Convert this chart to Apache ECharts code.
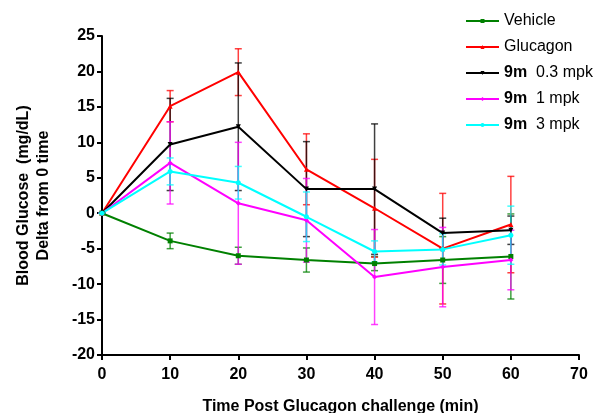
<!DOCTYPE html>
<html><head><meta charset="utf-8">
<script src="https://cdn.jsdelivr.net/npm/echarts@6/dist/echarts.min.js"></script>
<style>html,body{margin:0;padding:0;background:#fff}#c{width:608px;height:413px}</style>
</head><body><div id="c"></div>
<script>
const times = [0, 10, 20, 30, 40, 50, 60];
const seriesNames = ['Vehicle', 'Glucagon', '9m 0.3 mpk', '9m 1 mpk', '9m 3 mpk'];
const vehicle = [0, -3.9, -6.0, -6.6, -7.1, -6.6, -6.1];
const vehicleErr = [0, 1.1, 1.2, 1.7, 1.0, 3.3, 6.0];
const glucagon = [0, 15.1, 19.9, 6.2, 0.7, -5.0, -1.6];
const glucagonErr = [0, 2.2, 3.3, 5.0, 6.9, 7.8, 6.8];
const m03 = [0, 9.7, 12.2, 3.4, 3.4, -2.8, -2.4];
const m03Err = [0, 6.5, 9.0, 6.7, 9.2, 2.1, 2.0];
const m1 = [0, 7.1, 1.4, -1.0, -9.0, -7.6, -6.6];
const m1Err = [0, 5.8, 8.6, 5.9, 6.7, 5.6, 4.2];
const m3 = [0, 5.9, 4.3, -0.5, -5.4, -5.1, -3.1];
const m3Err = [0, 1.9, 2.3, 3.5, 1.5, 2.2, 4.1];

const means = [vehicle, glucagon, m03, m1, m3];
const errs = [vehicleErr, glucagonErr, m03Err, m1Err, m3Err];
const colors = ['#008000', '#ff0000', '#000000', '#ff00ff', '#00ffff'];
const symbols = ['rect', 'triangle', 'triangle', 'diamond', 'circle'];
const symbolRot = [0, 0, 180, 0, 0];

const series = [];
means.forEach((m, i) => {
  series.push({
    type: 'line', name: seriesNames[i], z: 3,
    data: times.map((t, k) => [t, m[k]]),
    symbol: symbols[i], symbolRotate: symbolRot[i], symbolSize: 5,
    showAllSymbol: true,
    lineStyle: { color: colors[i], width: 2 },
    itemStyle: { color: colors[i] }
  });
});
means.forEach((m, i) => {
  series.push({
    type: 'custom', name: seriesNames[i], z: 1,
    data: times.map((t, k) => [t, m[k] - errs[i][k], m[k] + errs[i][k]]),
    renderItem: (params, api) => {
      const lo = api.coord([api.value(0), api.value(1)]);
      const hi = api.coord([api.value(0), api.value(2)]);
      const w = 3.5;
      const st = { stroke: colors[i], lineWidth: 1.5, opacity: 0.75 };
      return { type: 'group', children: [
        { type: 'line', shape: { x1: lo[0], y1: lo[1], x2: hi[0], y2: hi[1] }, style: st },
        { type: 'line', shape: { x1: lo[0] - w, y1: lo[1], x2: lo[0] + w, y2: lo[1] }, style: st },
        { type: 'line', shape: { x1: hi[0] - w, y1: hi[1], x2: hi[0] + w, y2: hi[1] }, style: st }
      ]};
    },
    silent: true
  });
});

const chart = echarts.init(document.getElementById('c'), null, { renderer: 'canvas' });
chart.setOption({
  animation: false,
  backgroundColor: '#fff',
  grid: { left: 102, right: 29, top: 36, bottom: 58, containLabel: false, outerBoundsMode: 'none' },
  legend: {
    orient: 'vertical', left: 465, top: 13, padding: 0, itemWidth: 33, itemHeight: 5, itemGap: 10,
    data: seriesNames,
    textStyle: { fontFamily: 'Liberation Sans', fontSize: 16, color: '#000',
      rich: { b: { fontFamily: 'Liberation Sans', fontSize: 16, fontWeight: 'bold', color: '#000' },
              n: { fontFamily: 'Liberation Sans', fontSize: 16, color: '#000' } } },
    formatter: (name) => name.startsWith('9m') ? '{b|9m}{n|  ' + name.slice(3) + '}' : name
  },
  xAxis: {
    type: 'value', min: 0, max: 70, interval: 10,
    name: 'Time Post Glucagon challenge (min)', nameLocation: 'middle', nameGap: 44,
    nameTextStyle: { fontFamily: 'Liberation Sans', fontWeight: 'bold', fontSize: 16, color: '#000' },
    axisLine: { show: true, onZero: false, lineStyle: { color: '#000', width: 2 } },
    axisTick: { show: true, length: 5, lineStyle: { color: '#000', width: 2 } },
    axisLabel: { fontFamily: 'Liberation Sans', fontWeight: 'bold', fontSize: 16, color: '#000', margin: 12 },
    splitLine: { show: false }
  },
  yAxis: {
    type: 'value', min: -20, max: 25, interval: 5,
    name: 'Blood Glucose  (mg/dL)\nDelta from 0 time', nameLocation: 'middle', nameGap: 48,
    nameTextStyle: { fontFamily: 'Liberation Sans', fontWeight: 'bold', fontSize: 16, color: '#000', lineHeight: 20 },
    axisLine: { show: true, onZero: false, lineStyle: { color: '#000', width: 2 } },
    axisTick: { show: true, length: 5, lineStyle: { color: '#000', width: 2 } },
    axisLabel: { fontFamily: 'Liberation Sans', fontWeight: 'bold', fontSize: 16, color: '#000', margin: 7 },
    splitLine: { show: false }
  },
  series: series
});
</script></body></html>
